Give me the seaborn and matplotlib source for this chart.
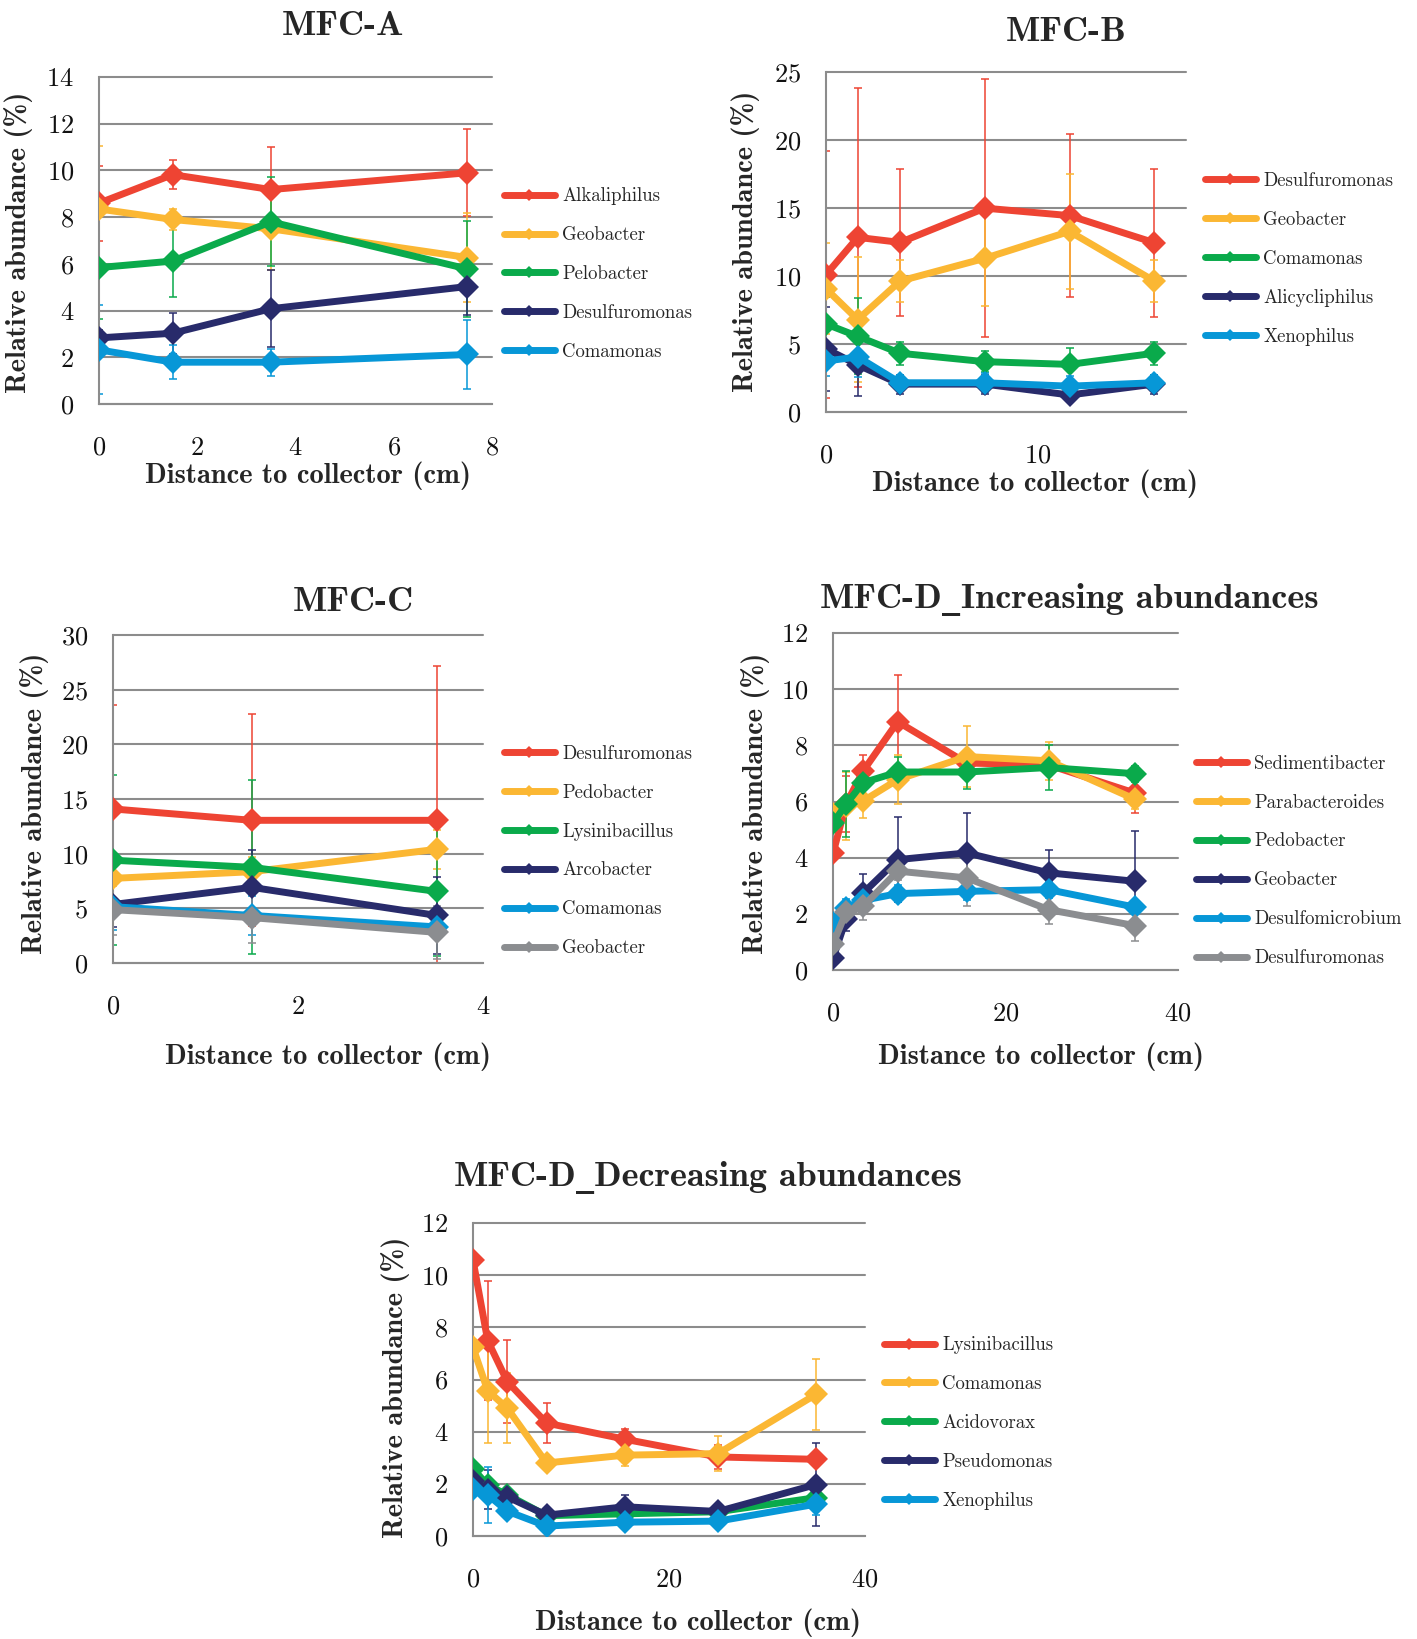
import pandas as pd
import matplotlib
matplotlib.use("Agg")
import matplotlib.pyplot as plt
import seaborn as sns
from matplotlib.lines import Line2D

# ---------------- data ----------------
a_x = [0, 1.5, 3.5, 7.5]
a_names = ["Alkaliphilus", "Geobacter", "Pelobacter", "Desulfuromonas", "Comamonas"]
a_mean = [[8.6, 9.82, 9.18, 9.9],
          [8.35, 7.9, 7.5, 6.27],
          [5.84, 6.12, 7.8, 5.78],
          [2.83, 3.03, 4.08, 5.03],
          [2.32, 1.79, 1.79, 2.12]]
a_err = [[1.6, 0.62, 1.84, 1.86],
         [2.7, 0.44, 1.76, 1.9],
         [2.2, 1.56, 1.9, 2.05],
         [0.35, 0.87, 1.66, 1.21],
         [1.9, 0.73, 0.57, 1.48]]

b_x = [0, 1.5, 3.5, 7.5, 11.5, 15.5]
b_names = ["Desulfuromonas", "Geobacter", "Comamonas", "Alicycliphilus", "Xenophilus"]
b_mean = [[10.1, 12.84, 12.47, 14.99, 14.44, 12.45],
          [9.06, 6.79, 9.63, 11.3, 13.28, 9.63],
          [6.47, 5.56, 4.32, 3.7, 3.5, 4.32],
          [4.65, 3.46, 2.05, 2.05, 1.25, 2.05],
          [3.75, 4.05, 2.15, 2.15, 1.9, 2.15]]
b_err = [[9.1, 11.0, 5.43, 9.5, 5.97, 5.43],
         [3.36, 4.6, 1.55, 3.53, 4.22, 1.55],
         [2.0, 2.8, 0.86, 0.75, 1.2, 0.86],
         [3.1, 2.3, 0.7, 0.7, 0.4, 0.7],
         [1.1, 1.5, 0.6, 0.7, 0.75, 0.6]]

c_x = [0, 1.5, 3.5]
c_names = ["Desulfuromonas", "Pedobacter", "Lysinibacillus", "Arcobacter", "Comamonas", "Geobacter"]
c_mean = [[14.09, 13.05, 13.05],
          [7.74, 8.35, 10.4],
          [9.4, 8.75, 6.55],
          [5.35, 6.92, 4.35],
          [5.15, 4.35, 3.3],
          [4.88, 4.15, 2.8]]
c_err = [[9.54, 9.7, 14.1],
         [0.7, 1.35, 1.77],
         [7.77, 7.95, 5.9],
         [2.1, 3.45, 3.55],
         [2.1, 1.8, 1.0],
         [2.3, 2.35, 2.4]]

d_x = [0, 1.5, 3.5, 7.5, 15.5, 25, 35]
d_names = ["Sedimentibacter", "Parabacteroides", "Pedobacter", "Geobacter",
           "Desulfomicrobium", "Desulfuromonas"]
d_mean = [[4.15, 5.9, 7.09, 8.84, 7.37, 7.3, 6.3],
          [5.55, 5.84, 6.02, 6.78, 7.6, 7.45, 6.08],
          [5.22, 5.9, 6.67, 7.05, 7.05, 7.21, 6.99],
          [0.42, 1.8, 2.74, 3.93, 4.17, 3.46, 3.16],
          [1.67, 2.22, 2.48, 2.72, 2.8, 2.86, 2.24],
          [0.92, 2.05, 2.27, 3.52, 3.28, 2.15, 1.58]]
d_err = [[0.0, 1.0, 0.55, 1.67, 0.3, 0.35, 0.7],
         [0.0, 1.22, 0.6, 0.88, 1.1, 0.67, 0.35],
         [0.0, 1.18, 0.4, 0.54, 0.62, 0.8, 0.28],
         [0.0, 0.42, 0.69, 1.52, 1.43, 0.83, 1.79],
         [0.0, 0.3, 0.3, 0.3, 0.3, 0.3, 0.2],
         [0.0, 0.3, 0.5, 0.3, 1.0, 0.5, 0.56]]

e_x = [0, 1.5, 3.5, 7.5, 15.5, 25, 35]
e_names = ["Lysinibacillus", "Comamonas", "Acidovorax", "Pseudomonas", "Xenophilus"]
e_mean = [[10.58, 7.49, 5.92, 4.33, 3.71, 3.03, 2.94],
          [7.23, 5.57, 4.9, 2.8, 3.1, 3.16, 5.43],
          [2.58, 1.95, 1.58, 0.78, 0.85, 0.93, 1.47],
          [2.1, 1.78, 1.5, 0.8, 1.12, 0.94, 1.97],
          [1.8, 1.58, 0.95, 0.38, 0.53, 0.57, 1.22]]
e_err = [[0.0, 2.28, 1.59, 0.78, 0.41, 0.45, 0.1],
         [0.0, 2.0, 1.35, 0.15, 0.4, 0.66, 1.36],
         [0.0, 0.15, 0.15, 0.1, 0.1, 0.1, 0.15],
         [0.0, 0.74, 0.26, 0.28, 0.45, 0.1, 1.6],
         [0.0, 1.07, 0.15, 0.1, 0.1, 0.1, 0.43]]

palette = ["#EE4433", "#FBB733", "#0AAA4B", "#282B6B", "#0797D7", "#8B8D90"]
grid_c = "#8C8C8C"

W, H = 1417, 1639
BOLD = ["cmb10", "DejaVu Serif"]

sns.set_theme(style="white")
plt.rcParams["font.family"] = ["cmr10", "DejaVu Serif"]
plt.rcParams["axes.formatter.use_mathtext"] = True
plt.rcParams["axes.unicode_minus"] = False

fig = plt.figure(figsize=(W / 100, H / 100), dpi=100)
renderer = fig.canvas.get_renderer()


def fx(px):
    return px / W


def fy(py):
    return 1 - py / H


def title_text(pos, s, size=26):
    # cmb10 maps "_" to a dot accent, so the underscore comes from DejaVu Serif
    x, y = pos
    base = fy(y + 12)
    pieces = []
    for i, part in enumerate(s.split("_")):
        if i > 0:
            pieces.append(("_", dict(family="DejaVu Serif", fontweight="bold")))
        pieces.append((part, dict(family=BOLD)))
    objs = [fig.text(0, base, t, va="baseline", ha="left", fontsize=size, **kw)
            for t, kw in pieces]
    widths = [o.get_window_extent(renderer).width for o in objs]
    left = x - sum(widths) / 2
    for o, w in zip(objs, widths):
        o.set_x(fx(left))
        left += w


def panel(box, xs, names, means, errs, xlim, xticks, ylim, yticks,
          title, title_pos, xlabel_pos, ylabel_pos, legend_pos):
    l, t, r, b = box
    ax = fig.add_axes([fx(l), fy(b), (r - l) / W, (b - t) / H])

    rows = []
    for name, m in zip(names, means):
        for x, v in zip(xs, m):
            rows.append({"x": x, "abundance": v, "taxon": name})
    df = pd.DataFrame(rows)
    cols = palette[:len(names)]

    for i, (m, e) in enumerate(zip(means, errs)):
        ax.errorbar(xs, m, yerr=e, fmt="none", ecolor=cols[i], elinewidth=1.1,
                    capsize=3.2, capthick=1.1, zorder=2)

    sns.lineplot(data=df, x="x", y="abundance", hue="taxon", hue_order=names,
                 palette=cols, marker="D", markersize=12.5, markeredgewidth=0,
                 linewidth=5, errorbar=None, sort=False, legend=False,
                 ax=ax, zorder=3)

    ax.set_xlim(*xlim)
    ax.set_ylim(*ylim)
    ax.set_xticks(xticks)
    ax.set_yticks(yticks)
    ax.set_xlabel("")
    ax.set_ylabel("")
    ax.yaxis.grid(True, color=grid_c, linewidth=1.5)
    ax.xaxis.grid(False)
    for gl in ax.get_ygridlines():
        gl.set_clip_on(False)
    for side in ["top", "right"]:
        ax.spines[side].set_visible(False)
    for side in ["left", "bottom"]:
        ax.spines[side].set_color(grid_c)
        ax.spines[side].set_linewidth(1.5)
    ax.tick_params(axis="both", direction="out", length=7, width=1.5,
                   color=grid_c, labelsize=19, labelcolor="#111111")
    ax.tick_params(axis="x", pad=16)
    ax.tick_params(axis="y", pad=11)

    handles = [Line2D([0], [0], color=c, linewidth=5, marker="D",
                      markersize=6.5, markeredgewidth=0) for c in cols]
    lx, ly = legend_pos
    ax.legend(handles, names, loc="center left", bbox_to_anchor=(fx(lx), fy(ly)),
              bbox_transform=fig.transFigure, frameon=False, fontsize=13.5,
              handlelength=2.7, handletextpad=0.4, labelspacing=1.12,
              borderpad=0, borderaxespad=0)

    title_text(title_pos, title)
    fig.text(fx(xlabel_pos[0]), fy(xlabel_pos[1]), "Distance to collector (cm)",
             ha="center", va="center", fontsize=20.5, family=BOLD)
    fig.text(fx(ylabel_pos[0]), fy(ylabel_pos[1]), "Relative abundance (%)",
             ha="center", va="center", rotation=90, fontsize=20.5, family=BOLD)
    return ax


panel((99, 77, 492, 404), a_x, a_names, a_mean, a_err, (0, 8), [0, 2, 4, 6, 8],
      (0, 14), range(0, 15, 2), "MFC-A", (343, 23), (308, 476), (19, 242), (504, 274))

panel((826, 72, 1186, 412), b_x, b_names, b_mean, b_err, (0, 17), [0, 10],
      (0, 25), range(0, 26, 5), "MFC-B", (1066, 29), (1035, 484), (746, 241), (1205, 259))

panel((113, 635, 483, 963), c_x, c_names, c_mean, c_err, (0, 4), [0, 2, 4],
      (0, 30), range(0, 31, 5), "MFC-C", (353, 599), (328, 1057), (35, 803), (504, 851))

panel((833, 633, 1178, 970), d_x, d_names, d_mean, d_err, (0, 40), [0, 20, 40],
      (0, 12), range(0, 13, 2), "MFC-D_Increasing abundances", (1069, 596),
      (1041, 1057), (755, 803), (1196, 861))

panel((473, 1223, 865, 1536), e_x, e_names, e_mean, e_err, (0, 40), [0, 20, 40],
      (0, 12), range(0, 13, 2), "MFC-D_Decreasing abundances", (708, 1174),
      (698, 1623), (395, 1387), (884, 1423))

fig.savefig("out.png", dpi=100, facecolor="white")
